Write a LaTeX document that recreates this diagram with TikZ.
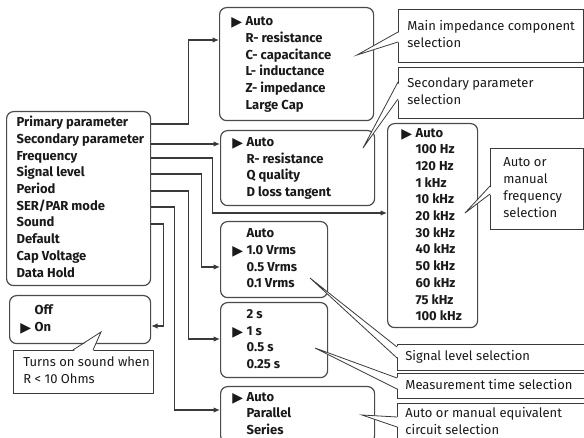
\documentclass[tikz,border=0pt]{standalone}
\usepackage{fontspec}
\setmainfont{Fira Sans}
\newfontfamily\symfont{DejaVu Sans}
\usetikzlibrary{arrows.meta, calc}
\definecolor{CLine}{HTML}{3A3A3A}
\definecolor{CBox}{HTML}{4A4A4A}
\definecolor{CText}{HTML}{1A1A1A}
\newcommand{\selmark}{\llap{\raisebox{-1pt}{\symfont\fontsize{14}{14}\selectfont ▶}\hspace{3.5pt}}}
\newcommand{\boxlines}[2]{\makebox[#1][l]{\begin{tabular}{@{}l@{}}#2\end{tabular}}}

\begin{document}
\begin{tikzpicture}[x=1pt, y=-1pt,
    menu/.style={draw=CBox, line width=1.2pt, rounded corners=7pt, fill=white, text=CText, anchor=north west, inner ysep=0pt, font=\fontsize{13}{16.7}\selectfont\bfseries},
    callout/.style={draw=CLine, line width=0.8pt, fill=white, text=CText, anchor=north west, inner ysep=0pt, font=\fontsize{13}{17}\selectfont},
    conn/.style={draw=CLine, line width=1.1pt, -{Latex[length=6.5pt, width=5.5pt]}},
    wedge/.style={draw=CLine, line width=0.8pt}]
    % Setup
    \useasboundingbox (0,0) rectangle (584,438);
    \clip (0,0) rectangle (584,438);

    % --- Main menu ---
    \node[menu, minimum width=144pt, minimum height=174pt, inner xsep=10pt] (main) at (6,111)
        {\boxlines{124pt}{Primary parameter\\Secondary parameter\\Frequency\\Signal level\\Period\\SER/PAR mode\\Sound\\Default\\Cap Voltage\\Data Hold}};

    % --- Sub menus ---
    \node[menu, minimum width=154pt, minimum height=113pt, inner xsep=26pt] (imp) at (219,7)
        {\boxlines{102pt}{\selmark Auto\\R- resistance\\C- capacitance\\L- inductance\\Z- impedance\\Large Cap}};
    \node[menu, minimum width=154pt, minimum height=75pt, inner xsep=26pt] (sec) at (220,130)
        {\boxlines{102pt}{\selmark Auto\\R- resistance\\Q quality\\D loss tangent}};
    \node[menu, minimum width=107pt, minimum height=76pt, inner xsep=26pt] (sig) at (220,221)
        {\boxlines{55pt}{Auto\\\selmark 1.0 Vrms\\0.5 Vrms\\0.1 Vrms}};
    \node[menu, minimum width=107pt, minimum height=75pt, inner xsep=26pt] (per) at (220,302)
        {\boxlines{55pt}{2 s\\\selmark 1 s\\0.5 s\\0.25 s}};
    \node[menu, minimum width=154pt, minimum height=56pt, inner xsep=26pt] (ser) at (220,386)
        {\boxlines{102pt}{\selmark Auto\\Parallel\\Series}};
    \node[menu, minimum width=90pt, minimum height=204pt, inner xsep=28pt] (freq) at (387,123)
        {\boxlines{34pt}{\selmark Auto\\100 Hz\\120 Hz\\1 kHz\\10 kHz\\20 kHz\\30 kHz\\40 kHz\\50 kHz\\60 kHz\\75 kHz\\100 kHz}};
    \node[menu, minimum width=141pt, minimum height=48pt, inner xsep=25pt] (snd) at (9,295)
        {\boxlines{91pt}{Off\\\selmark On}};

    % --- Connectors from the main menu ---
    \foreach \ry/\dx/\tgt/\ty in {124/37/imp.west/40, 144/30/sec.west/144, 158/61/freq.west/213,
                                  174/50/sig.west/267, 191/37/per.west/339, 207/23/ser.west/410, 224/12/snd.east/326} {
        \draw[conn] (main.east |- 0,\ry) -- ++(\dx,0) |- (\tgt |- 0,\ty);
    }

    % --- Callouts ---
    \node[callout, minimum width=185pt, minimum height=53pt, inner xsep=9pt] (callimp) at (398,9)
        {\boxlines{167pt}{Main impedance component\\selection}};
    \node[callout, minimum width=185pt, minimum height=51pt, inner xsep=9pt] (callsec) at (398,67)
        {\boxlines{167pt}{Secondary parameter\\selection}};
    \node[callout, minimum width=93pt, minimum height=81pt, inner xsep=13pt] (callfreq) at (490,148)
        {\boxlines{67pt}{Auto or\\manual\\frequency\\selection}};
    \node[callout, minimum width=195pt, minimum height=26pt, inner xsep=8pt] (callsig) at (397,344)
        {\boxlines{179pt}{Signal level selection}};
    \node[callout, minimum width=195pt, minimum height=25pt, inner xsep=8pt] (callmeas) at (397,373)
        {\boxlines{179pt}{Measurement time selection}};
    \node[callout, minimum width=195pt, minimum height=38pt, inner xsep=8pt] (callckt) at (397,403)
        {\boxlines{179pt}{Auto or manual equivalent\\circuit selection}};
    \node[callout, minimum width=140pt, minimum height=43pt, inner xsep=10pt] (callsnd) at (13,350)
        {\boxlines{120pt}{Turns on sound when\\R < 10 Ohms}};

    % Pointer tips
    \coordinate (impTip) at (357,55);
    \coordinate (secTip) at (363,148);
    \coordinate (freqTip) at (465,213);
    \coordinate (sigTip) at (310,278);
    \coordinate (measTip) at (315,348);
    \coordinate (cktTip) at (362,415);
    \coordinate (sndTip) at (101,332);

    \foreach \c/\ya/\yb/\tip in {callimp/32/42/impTip, callsec/82/99/secTip, callfreq/186/194/freqTip,
                                 callsig/347/358/sigTip, callmeas/378/389/measTip, callckt/417/427/cktTip} {
        \fill[white] ($(\c.west |- 0,\ya)+(1.5,0)$) -- (\tip) -- ($(\c.west |- 0,\yb)+(1.5,0)$) -- cycle;
        \draw[wedge] (\c.west |- 0,\ya) -- (\tip) -- (\c.west |- 0,\yb);
    }
    \fill[white] ($(callsnd.north -| 73,0)+(0,1.5)$) -- (sndTip) -- ($(callsnd.north -| 93,0)+(0,1.5)$) -- cycle;
    \draw[wedge] (callsnd.north -| 73,0) -- (sndTip) -- (callsnd.north -| 93,0);

\end{tikzpicture}
\end{document}
